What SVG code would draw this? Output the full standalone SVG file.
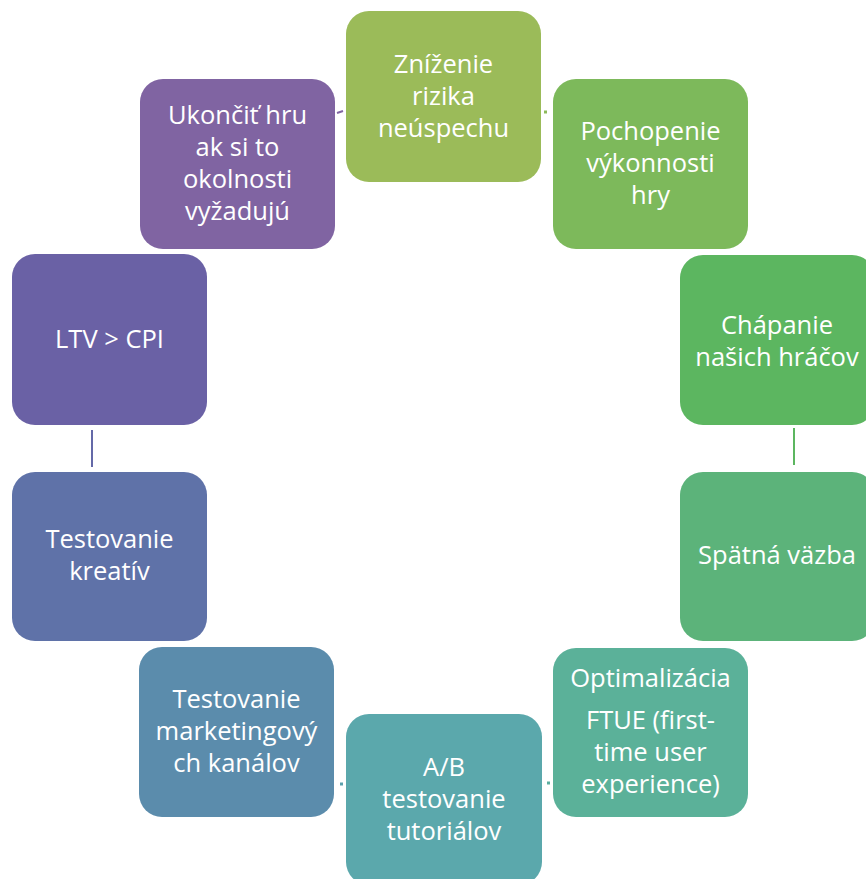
<svg xmlns="http://www.w3.org/2000/svg" width="866" height="879" viewBox="0 0 866 879">
<style>
.n rect{rx:23px;ry:23px}
.t{font-family:"Open Sans","Liberation Sans",sans-serif;font-size:25.5px;fill:#ffffff;text-anchor:middle}
</style>
<rect width="866" height="879" fill="#ffffff"/>
<g id="connectors" fill="none" stroke-width="2">
<path d="M337 113 L343 111" stroke="#8064A2"/>
<path d="M544 112 L547 112" stroke="#8DBA5A" stroke-width="3"/>
<path d="M794 428 L794 465" stroke="#5CB660"/>
<path d="M92 430 L92 467" stroke="#6469A8"/>
<path d="M340 784 L343 784" stroke="#5BA0AC" stroke-width="3"/>
<path d="M547 783 L550 783" stroke="#5BAEA0" stroke-width="3"/>
</g>
<g id="n1" class="n"><rect x="346" y="11" width="195" height="171" fill="#9BBB59"/>
<text class="t" x="443.5"><tspan x="443.5" y="73">Zníženie</tspan><tspan x="443.5" y="105">rizika</tspan><tspan x="443.5" y="137">neúspechu</tspan></text></g>
<g id="n2" class="n"><rect x="553" y="79" width="195" height="170" fill="#7DB95B"/>
<text class="t"><tspan x="650.5" y="140">Pochopenie</tspan><tspan x="650.5" y="172">výkonnosti</tspan><tspan x="650.5" y="204">hry</tspan></text></g>
<g id="n3" class="n"><rect x="680" y="255" width="195" height="170" fill="#5CB660"/>
<text class="t"><tspan x="777" y="334">Chápanie</tspan><tspan x="777" y="366">našich hráčov</tspan></text></g>
<g id="n4" class="n"><rect x="680" y="472" width="195" height="169" fill="#5CB37A"/>
<text class="t"><tspan x="777" y="564">Spätná väzba</tspan></text></g>
<g id="n5" class="n"><rect x="553" y="648" width="195" height="169" fill="#5BB199"/>
<text class="t"><tspan x="650.5" y="687">Optimalizácia</tspan><tspan x="650.5" y="729">FTUE (first-</tspan><tspan x="650.5" y="761">time user</tspan><tspan x="650.5" y="793">experience)</tspan></text></g>
<g id="n6" class="n"><rect x="346" y="714" width="196" height="171" fill="#5BA8AC"/>
<text class="t"><tspan x="444" y="776">A/B</tspan><tspan x="444" y="808">testovanie</tspan><tspan x="444" y="840">tutoriálov</tspan></text></g>
<g id="n7" class="n"><rect x="139" y="647" width="195" height="170" fill="#5B8CAC"/>
<text class="t"><tspan x="236.5" y="708">Testovanie</tspan><tspan x="236.5" y="740">marketingový</tspan><tspan x="236.5" y="772">ch kanálov</tspan></text></g>
<g id="n8" class="n"><rect x="12" y="472" width="195" height="169" fill="#5F72A8"/>
<text class="t"><tspan x="109.5" y="548">Testovanie</tspan><tspan x="109.5" y="580">kreatív</tspan></text></g>
<g id="n9" class="n"><rect x="12" y="254" width="195" height="171" fill="#6A61A5"/>
<text class="t"><tspan x="109.5" y="348">LTV &gt; CPI</tspan></text></g>
<g id="n10" class="n"><rect x="140" y="79" width="195" height="170" fill="#8064A2"/>
<text class="t"><tspan x="237.5" y="124">Ukončiť hru</tspan><tspan x="237.5" y="156">ak si to</tspan><tspan x="237.5" y="188">okolnosti</tspan><tspan x="237.5" y="220">vyžadujú</tspan></text></g>
</svg>
